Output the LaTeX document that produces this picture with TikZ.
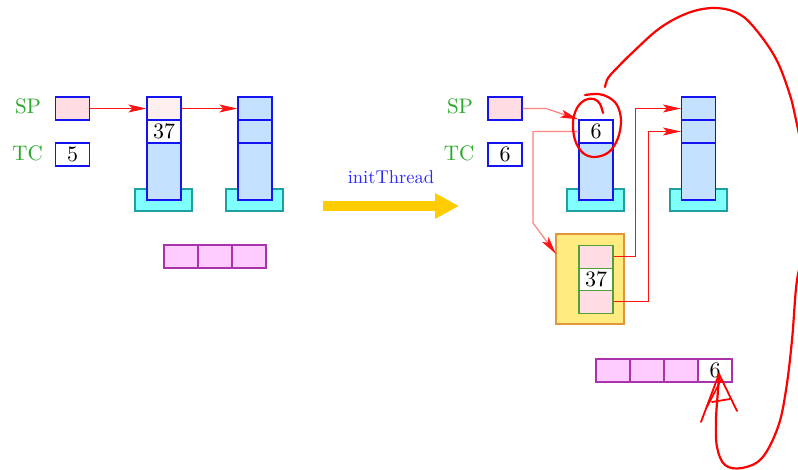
\documentclass[tikz,border=0pt]{standalone}
\usepackage{fontspec}
\setmainfont{lmroman10-regular.otf}
\usetikzlibrary{arrows.meta}
\definecolor{spgreen}{RGB}{40,170,40}
\definecolor{boxblue}{RGB}{20,20,240}
\definecolor{pinkfill}{RGB}{255,221,226}
\definecolor{palepink}{RGB}{255,240,240}
\definecolor{cellblue}{RGB}{196,226,255}
\definecolor{basecyan}{RGB}{128,255,255}
\definecolor{baseteal}{RGB}{30,160,160}
\definecolor{purfill}{RGB}{255,204,255}
\definecolor{purdraw}{RGB}{170,50,170}
\definecolor{yelfill}{RGB}{255,235,128}
\definecolor{yeldraw}{RGB}{225,150,60}
\definecolor{grndraw}{RGB}{80,160,60}
\definecolor{arrred}{RGB}{255,20,20}
\definecolor{lightred}{RGB}{255,130,130}
\definecolor{bigyellow}{RGB}{255,204,0}
\definecolor{textblue}{RGB}{40,40,255}
\tikzset{
  lbl/.style={text=spgreen, font=\fontsize{21}{25}\selectfont},
  cellbox/.style={draw=boxblue, line width=1.2pt, inner sep=0pt, minimum width=34pt, minimum height=23pt, font=\fontsize{22}{26}\selectfont},
  pinkcell/.style={cellbox, fill=pinkfill},
  palecell/.style={cellbox, fill=palepink},
  whitecell/.style={cellbox, fill=white},
  bluecell/.style={cellbox, fill=cellblue},
  tallcell/.style={bluecell, minimum height=57pt},
  basebox/.style={draw=baseteal, fill=basecyan, line width=1.2pt, inner sep=0pt, minimum width=57pt, minimum height=22pt},
  purcell/.style={draw=purdraw, fill=purfill, line width=1.2pt, inner sep=0pt, minimum width=34pt, minimum height=23pt, font=\fontsize{22}{26}\selectfont},
  greencell/.style={draw=grndraw, fill=pinkfill, line width=1.2pt, inner sep=0pt, minimum width=34pt, minimum height=22.5pt, font=\fontsize{22}{26}\selectfont},
  ptr/.style={draw=arrred, line width=1pt, -{Stealth[length=18pt,width=8pt,inset=4pt]}},
  lptr/.style={draw=lightred, line width=1.2pt, -{Stealth[length=18pt,width=8pt,inset=4pt,color=arrred]}},
  hand/.style={draw=red, line width=2.2pt, line cap=round, line join=round}
}
\begin{document}
\begin{tikzpicture}[x=1pt,y=-1pt]
\useasboundingbox (0,0) rectangle (798,470);
\fill[white] (0,0) rectangle (798,470);

% ---------- left state ----------
\node[lbl] (splabel1) at (28,106) {SP};
\node[lbl] (tclabel1) at (27.5,153) {TC};
\node[pinkcell] (sp1) at (72.5,108.5) {};
\node[whitecell] (tc1) at (72.5,154.5) {5};

\node[basebox] (base1) at (163.5,200) {};
\node[palecell] (a1) at (164,108.5) {};
\node[whitecell] (a2) at (164,131.5) {37};
\node[tallcell] (a3) at (164,171.5) {};

\node[basebox] (base2) at (254.5,200) {};
\node[bluecell] (b1) at (255,108.5) {};
\node[bluecell] (b2) at (255,131.5) {};
\node[tallcell] (b3) at (255,171.5) {};

\node[purcell] (p1) at (181,256.5) {};
\node[purcell] (p2) at (215,256.5) {};
\node[purcell] (p3) at (249,256.5) {};

\draw[ptr] (sp1.east) -- (a1.west);
\draw[ptr] (a1.east) -- (b1.west);

% ---------- transition ----------
\coordinate (ya) at (323,206);
\coordinate (yb) at (459,206);
\draw[bigyellow, line width=10pt, -{Triangle[length=24pt,width=24pt]}] (ya) -- (yb);
\node[text=textblue, font=\fontsize{18.5}{22}\selectfont] (initlbl) at (391,177) {initThread};

% ---------- right state ----------
\node[lbl] (splabel2) at (460,106) {SP};
\node[lbl] (tclabel2) at (459,153) {TC};
\node[pinkcell] (sp2) at (505,108.5) {};
\node[whitecell] (tc2) at (505,154.5) {6};

\node[basebox] (base3) at (595.5,200) {};
\node[whitecell] (c1) at (596,131.5) {6};
\node[tallcell] (c2) at (596,171.5) {};

\node[basebox] (base4) at (698.5,200) {};
\node[bluecell] (d1) at (698.5,108.5) {};
\node[bluecell] (d2) at (698.5,131.5) {};
\node[tallcell] (d3) at (698.5,171.5) {};

\node[draw=yeldraw, fill=yelfill, line width=1.2pt, minimum width=68pt, minimum height=90pt, inner sep=0pt] (ybox) at (590,279) {};
\node[greencell] (e1) at (596,257) {};
\node[greencell, fill=white] (e2) at (596,279.5) {37};
\node[greencell] (e3) at (596,302) {};

\node[purcell] (q1) at (613,370.5) {};
\node[purcell] (q2) at (647,370.5) {};
\node[purcell] (q3) at (681,370.5) {};
\node[purcell, fill=white] (q4) at (715,370.5) {6};

\coordinate (spbend) at (546,108.5);
\coordinate (tcbend) at (533,223);
\coordinate (yin) at (556,254);
\draw[lptr] (sp2.east) -- (spbend) -- (c1.north west);
\draw[lptr] (c1.west) -| (tcbend) -- (yin);
\draw[ptr] (e1.east) -- ++(22,0) |- (d1.west);
\draw[ptr] (e3.east) -- ++(35,0) |- (d2.west);

% ---------- hand-drawn annotations ----------
\begin{scope}
\clip (0,0) rectangle (798,470);
\draw[hand] plot[smooth, tension=0.6] coordinates {
  (603,113) (600,104) (594,99) (585,100) (577,108) (573,122) (575,140)
  (583,153) (595,157) (609,152) (618,138) (621,120) (617,105) (608,97)
  (598,94) (585,95)};
\draw[hand] plot[smooth, tension=0.6] coordinates {
  (605,87) (608,78) (616,69) (632,53) (660,28) (688,13) (713,8) (735,12)
  (752,25) (775,57) (789,92) (796,120) (806,170) (810,210) (805,250)
  (797,280) (792,340) (786,390) (778,427) (762,458) (742,468)
  (725,465) (717,447) (716,420) (718,390) (719,374)};
\draw[hand, line width=1.8pt] (719,374) -- (701,422);
\draw[hand, line width=1.6pt] (721,380) -- (707,407);
\draw[hand, line width=1.8pt] (719,374) -- (737,411);
\draw[hand, line width=1.8pt] (712,402) -- (730,399);
\end{scope}
\end{tikzpicture}
\end{document}
